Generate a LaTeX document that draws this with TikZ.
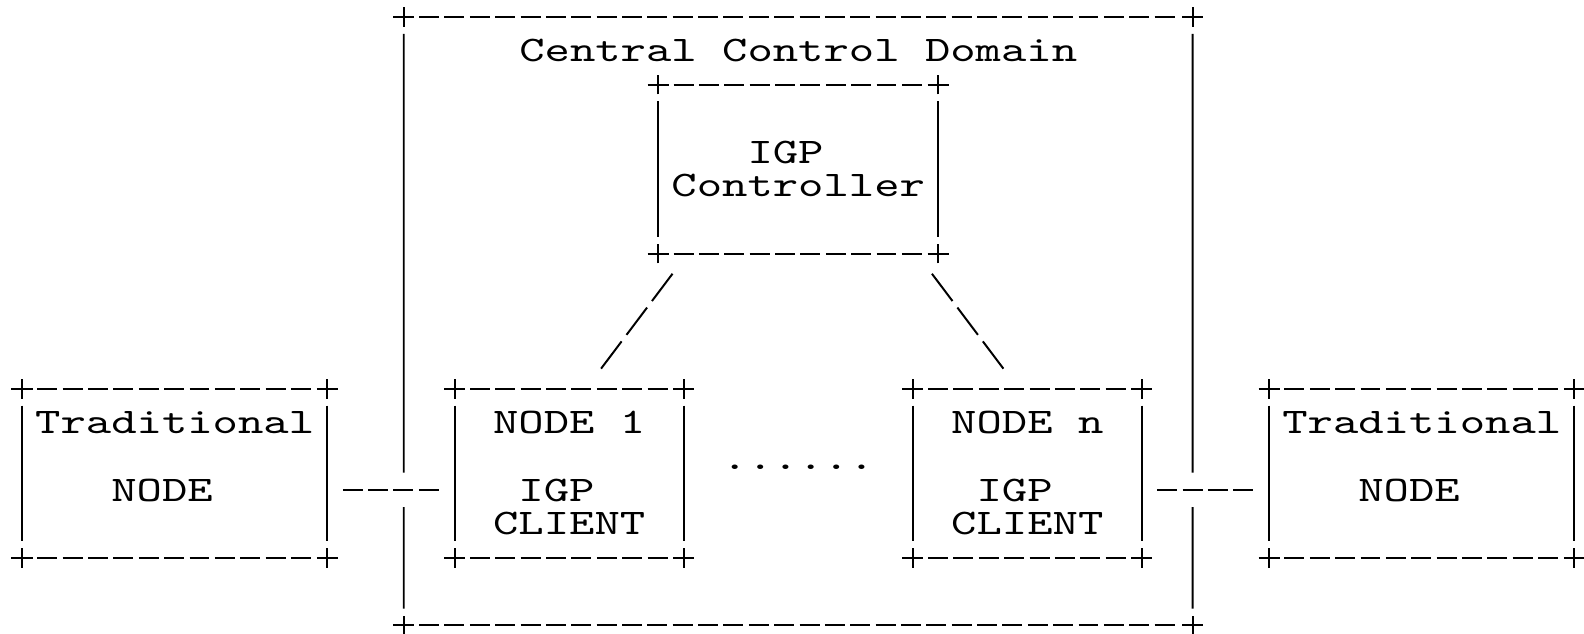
\documentclass[tikz,border=0pt]{standalone}
\usepackage{fontspec}
\newfontfamily\asciifont{lmmono10-regular.otf}[FakeStretch=1.342]

\begin{document}
\begin{tikzpicture}[x=0.63625cm, y=-0.845cm,
    every node/.style ={font=\asciifont\fontsize{25.6}{23.95}\selectfont, align=center},
    box/.style ={rectangle, inner sep=0pt, outer sep=0pt},
    asciih/.style ={line width=1.4pt, dash pattern=on 14.2pt off 3.84pt, shorten <=10.93pt, shorten >=10.93pt},
    asciiv/.style ={line width=1.4pt, xshift=0.0875cm, shorten <=12pt, shorten >=12pt},
    slashes/.style ={line width=1.4pt, dash pattern=on 24.3pt off 5.8pt, dash phase=27.2pt},
    crossmark/.style ={line width=1.4pt}]
   \useasboundingbox (-0.8644,-0.503) rectangle (61.375,18.254);
   % domain and its title
   \node[box, minimum width=19.724cm, minimum height=15.21cm] (domain) at (30.5,9) {};
   \node (title) at (30.5,1) {Central Control Domain};
   % boxes
   \node[box, minimum width=6.999cm, minimum height=4.225cm] (ctrl) at (30.5,4.5) {IGP\hphantom{I}\\Controller};
   \node[box, minimum width=7.635cm, minimum height=4.225cm] (tradL) at (6,13.5) {Traditional\\\mbox{}\\NODE\hphantom{N}\\\mbox{}};
   \node[box, minimum width=5.726cm, minimum height=4.225cm] (nodeA) at (21.5,13.5) {NODE 1\\\mbox{}\\IGP\hphantom{I}\\CLIENT};
   \node[box, minimum width=5.726cm, minimum height=4.225cm] (nodeN) at (39.5,13.5) {NODE n\\\mbox{}\\IGP\hphantom{I}\\CLIENT};
   \node[box, minimum width=7.635cm, minimum height=4.225cm] (tradR) at (55,13.5) {Traditional\\\mbox{}\\NODE\hphantom{N}\\\mbox{}};
   \node[inner sep=0pt] (dots) at (30.5,13.31) {......};
   % box outlines
   \foreach \b in {tradL,nodeA,nodeN,tradR,ctrl}{
     \draw[asciih] (\b.north west) -- (\b.north east);
     \draw[asciih] (\b.south west) -- (\b.south east);
     \draw[asciiv] (\b.north west) -- (\b.south west);
     \draw[asciiv] (\b.north east) -- (\b.south east);
   }
   \draw[asciih] (domain.north west) -- (domain.north east);
   \draw[asciih] (domain.south west) -- (domain.south east);
   \coordinate (gapLa) at (15,13.48);
   \coordinate (gapLb) at (15,14.5);
   \coordinate (gapRa) at (46,13.48);
   \coordinate (gapRb) at (46,14.5);
   \draw[asciiv, shorten >=0pt] (domain.north west) -- (gapLa);
   \draw[asciiv, shorten <=0pt] (gapLb) -- (domain.south west);
   \draw[asciiv, shorten >=0pt] (domain.north east) -- (gapRa);
   \draw[asciiv, shorten <=0pt] (gapRb) -- (domain.south east);
   % corners
   \foreach \b in {tradL,nodeA,nodeN,tradR,ctrl,domain}
     \foreach \c in {north west,north east,south west,south east}
       \draw[crossmark] (\b.\c) ++(-7.5pt,0) -- ++(15pt,0) (\b.\c) ++(0,-7pt) -- ++(0,14pt);
   % links
   \draw[asciih] ([yshift=-0.4225cm]tradL.east) -- ([yshift=-0.4225cm]nodeA.west);
   \draw[asciih] ([yshift=-0.4225cm]nodeN.east) -- ([yshift=-0.4225cm]tradR.west);
   \draw[slashes] ([xshift=0.418cm, yshift=-0.4225cm]ctrl.south west) -- ([xshift=0.736cm, yshift=0.4225cm]nodeA.north);
   \draw[slashes] ([xshift=-0.218cm, yshift=-0.4225cm]ctrl.south east) -- ([xshift=-0.536cm, yshift=0.4225cm]nodeN.north);
\end{tikzpicture}
\end{document}
